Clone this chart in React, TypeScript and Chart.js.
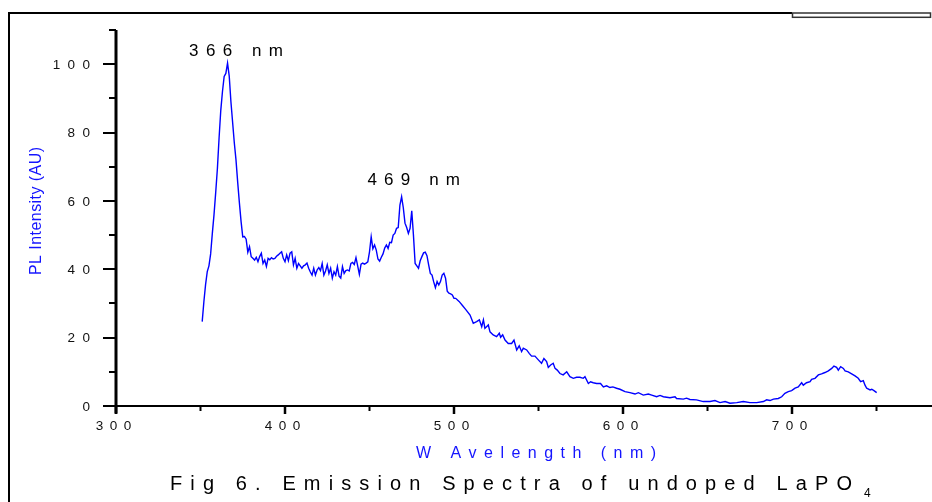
import { useEffect, useRef } from "react";
import { Chart, registerables } from "chart.js";

Chart.register(...registerables);

// ---------- data ----------
const WAVELENGTH_NM = [
  351, 352, 353, 354, 355, 356, 357, 358, 359, 360,
  361, 362, 363, 364, 365, 366, 367, 368, 369, 370,
  371, 372, 373, 374, 375, 376, 377, 378, 379, 380,
  381, 382, 383, 384, 385, 386, 387, 388, 389, 390,
  391, 392, 393, 394, 395, 396, 397, 398, 399, 400,
  401, 402, 403, 404, 405, 406, 407, 408, 409, 410,
  411, 412, 413, 414, 415, 416, 417, 418, 419, 420,
  421, 422, 423, 424, 425, 426, 427, 428, 429, 430,
  431, 432, 433, 434, 435, 436, 437, 438, 439, 440,
  441, 442, 443, 444, 445, 446, 447, 448, 449, 450,
  451, 452, 453, 454, 455, 456, 457, 458, 459, 460,
  461, 462, 463, 464, 465, 466, 467, 468, 469, 470,
  471, 472, 473, 474, 475, 476, 477, 478, 479, 480,
  481, 482, 483, 484, 485, 486, 487, 488, 489, 490,
  491, 492, 493, 494, 495, 496, 497, 498, 499, 500,
  501, 503, 505, 507, 509.5, 511.4, 513.4, 515, 516.4, 517.4,
  518.3, 520.3, 521.3, 523.2, 525.2, 526.8, 527.6, 528.8, 530.2, 532.1,
  534.1, 535.5, 537.1, 538.6, 540, 541, 543, 544.5, 545.9, 547.9,
  549.9, 551.8, 553.2, 554.8, 555.8, 557.2, 558.7, 559.8, 561.1, 562.7,
  564.6, 566.7, 568.6, 570.6, 572.5, 574.5, 576.5, 577.5, 579.5, 580.8,
  582.4, 584.4, 586.7, 588.4, 590.3, 592.3, 594, 596.2, 598.2, 601.2,
  604.1, 607.1, 609.1, 612, 615, 617, 619.9, 621.9, 623.9, 627.8,
  630.8, 631.7, 635.7, 637.6, 639.6, 643.5, 647.5, 651.5, 654.4, 657.4,
  660.4, 663.3, 667.3, 671.2, 675.1, 679.1, 683.1, 685, 687, 689,
  691.9, 693.9, 695.8, 697.8, 699.8, 701.8, 703.7, 705.7, 706.7, 708.6,
  710.7, 711.6, 713.6, 715.6, 717.5, 719.5, 721.5, 723.5, 724.8, 726.4,
  727.4, 728.8, 730.4, 731.4, 733.3, 735.3, 737.3, 739.2, 740.6, 742.2,
  743.2, 744.2, 746.2, 747.2, 748.5, 750.1,
];

const PL_INTENSITY = [
  24.7, 30.5, 35.5, 39.3, 41.0, 44.5, 50.5, 56.0, 62.5, 69.5,
  78.5, 86.5, 92.0, 96.4, 97.3, 100.3, 96.5, 89.0, 83.0, 77.0,
  72.0, 65.5, 59.5, 54.0, 49.5, 49.6, 48.8, 45.0, 46.6, 43.7,
  43.2, 42.7, 43.5, 42.2, 43.7, 44.7, 41.7, 42.7, 40.8, 43.2,
  42.8, 43.4, 43.0, 43.2, 43.8, 44.2, 44.7, 45.1, 43.2, 42.2,
  44.2, 42.5, 44.7, 45.1, 41.3, 43.2, 40.3, 41.7, 41.0, 40.3,
  41.0, 41.3, 41.8, 40.3, 39.2, 38.3, 40.3, 38.3, 39.8, 40.5,
  39.6, 41.7, 38.3, 39.5, 41.3, 38.8, 40.3, 37.4, 39.3, 38.3,
  40.8, 38.0, 37.4, 40.8, 38.8, 39.6, 39.8, 39.5, 41.7, 42.0,
  41.4, 43.4, 41.0, 38.5, 41.5, 41.8, 41.5, 41.8, 42.2, 45.1,
  49.5, 46.0, 47.1, 45.6, 43.0, 42.4, 43.5, 44.5, 46.2, 47.1,
  46.1, 47.9, 47.8, 50.0, 50.5, 52.0, 52.2, 58.8, 61.2, 58.0,
  53.5, 52.2, 50.5, 52.0, 57.1, 50.0, 41.7, 41.0, 40.3, 42.5,
  43.7, 44.8, 45.0, 44.0, 41.3, 38.8, 38.3, 36.3, 34.6, 36.4,
  35.4, 36.4, 38.3, 38.8, 37.4, 33.6, 33.0, 32.8, 32.5, 31.5,
  31.5, 30.6, 29.4, 28.2, 26.6, 24.2, 24.7, 25.2, 23.2, 25.2,
  22.7, 23.7, 21.7, 20.8, 20.3, 21.3, 20.1, 20.8, 19.3, 18.3,
  18.3, 19.3, 16.4, 17.6, 15.9, 16.9, 16.4, 15.4, 14.6, 14.6,
  13.5, 12.5, 13.9, 13.0, 11.3, 12.0, 12.5, 11.0, 10.5, 9.5,
  9.1, 10.0, 8.6, 8.1, 8.4, 8.4, 8.1, 8.6, 6.6, 7.1,
  6.8, 6.6, 6.6, 5.6, 5.9, 5.4, 5.6, 5.2, 4.9, 4.2,
  3.9, 3.5, 3.9, 3.2, 3.5, 3.2, 2.7, 3.1, 2.7, 2.4,
  2.7, 2.2, 2.0, 2.3, 1.9, 1.8, 1.3, 1.3, 1.6, 1.0,
  1.3, 0.8, 1.0, 1.3, 1.0, 1.0, 1.3, 1.8, 1.6, 2.0,
  2.2, 2.7, 3.7, 4.2, 4.5, 5.2, 5.6, 6.8, 6.1, 6.8,
  7.1, 7.8, 8.1, 9.1, 9.4, 9.8, 10.3, 11.0, 11.7, 11.3,
  10.5, 11.5, 11.0, 10.3, 10.0, 9.4, 8.8, 8.1, 7.1, 7.4,
  6.1, 5.2, 4.7, 4.9, 4.5, 3.9,
];

const X_MAJOR_TICKS = [300, 400, 500, 600, 700];
const X_MINOR_TICKS = [350, 450, 550, 650, 750];
const Y_MAJOR_TICKS = [0, 20, 40, 60, 80, 100];
const Y_MINOR_TICKS = [10, 30, 50, 70, 90, 110];

const PEAK_LABEL_1 = "366 nm";
const PEAK_LABEL_2 = "469 nm";
const X_TITLE = "W Avelength (nm)";
const Y_TITLE = "PL Intensity (AU)";
const CAPTION = "Fig 6. Emission Spectra of undoped LaPO";
const CAPTION_SUB = "4";

const X_MIN = 300;
const X_MAX = 782.84;
const Y_MIN = 0;
const Y_MAX = 110;

const FONT = '"Liberation Sans", Arial, Helvetica, sans-serif';
const BLUE = "#0000ff";
const TITLE_BLUE = "#1414ff";

function widths(ctx: CanvasRenderingContext2D, text: string): number[] {
  return Array.from(text).map((c) => ctx.measureText(c).width);
}

function drawSpaced(
  ctx: CanvasRenderingContext2D,
  text: string,
  x: number,
  baseline: number,
  spacing: number
) {
  let cx = x;
  for (const c of Array.from(text)) {
    ctx.fillText(c, cx, baseline);
    cx += ctx.measureText(c).width + spacing;
  }
}

function spacedWidth(ctx: CanvasRenderingContext2D, text: string, spacing: number) {
  const w = widths(ctx, text);
  return w.reduce((a, b) => a + b, 0) + spacing * (w.length - 1);
}

function drawFit(
  ctx: CanvasRenderingContext2D,
  text: string,
  left: number,
  right: number,
  baseline: number
) {
  const w = widths(ctx, text);
  const sum = w.reduce((a, b) => a + b, 0);
  const s = (right - left - sum) / Math.max(1, w.length - 1);
  drawSpaced(ctx, text, left, baseline, s);
}

const decorPlugin = {
  id: "decor",
  afterDraw(chart: any) {
    const ctx: CanvasRenderingContext2D = chart.ctx;
    const xs = chart.scales.x;
    const ys = chart.scales.y;
    const x0 = xs.getPixelForValue(X_MIN);
    const y0 = ys.getPixelForValue(Y_MIN);
    const yTop = ys.getPixelForValue(Y_MAX);
    ctx.save();

    // outer frame (cropped)
    ctx.strokeStyle = "#000";
    ctx.lineWidth = 2;
    ctx.beginPath();
    ctx.moveTo(9, 502);
    ctx.lineTo(9, 13);
    ctx.lineTo(792, 13);
    ctx.stroke();
    ctx.strokeStyle = "#333";
    ctx.lineWidth = 1.5;
    ctx.strokeRect(792.5, 13, 138, 4.3);

    // y axis
    ctx.strokeStyle = "#000";
    ctx.lineWidth = 3;
    ctx.beginPath();
    ctx.moveTo(x0, yTop);
    ctx.lineTo(x0, y0 + 7.5);
    ctx.stroke();
    // x axis
    ctx.lineWidth = 2;
    ctx.beginPath();
    ctx.moveTo(x0 - 13, y0);
    ctx.lineTo(chart.width, y0);
    ctx.stroke();

    // y ticks
    ctx.lineWidth = 2;
    for (const v of Y_MAJOR_TICKS) {
      const p = Math.round(ys.getPixelForValue(v));
      ctx.beginPath();
      ctx.moveTo(x0 - 13, p);
      ctx.lineTo(x0, p);
      ctx.stroke();
    }
    for (const v of Y_MINOR_TICKS) {
      const p = Math.round(ys.getPixelForValue(v));
      ctx.beginPath();
      ctx.moveTo(x0 - 7, p);
      ctx.lineTo(x0, p);
      ctx.stroke();
    }
    // x ticks
    ctx.lineWidth = 2.5;
    for (const v of X_MAJOR_TICKS) {
      const p = xs.getPixelForValue(v);
      ctx.beginPath();
      ctx.moveTo(p, y0);
      ctx.lineTo(p, y0 + 8);
      ctx.stroke();
    }
    ctx.lineWidth = 2;
    for (const v of X_MINOR_TICKS) {
      const p = xs.getPixelForValue(v);
      ctx.beginPath();
      ctx.moveTo(p, y0);
      ctx.lineTo(p, y0 + 5);
      ctx.stroke();
    }

    // tick labels
    ctx.fillStyle = "#111";
    ctx.textBaseline = "alphabetic";
    ctx.textAlign = "left";
    const tickSize = 13.5;
    ctx.font = `${tickSize}px ${FONT}`;
    const capHalf = (0.716 * tickSize) / 2;
    for (const v of Y_MAJOR_TICKS) {
      const t = String(v);
      const w = spacedWidth(ctx, t, 7.4);
      const p = ys.getPixelForValue(v);
      drawSpaced(ctx, t, 90 - w, p + capHalf, 7.4);
    }
    for (const v of X_MAJOR_TICKS) {
      const t = String(v);
      const w = spacedWidth(ctx, t, 6.5);
      const p = xs.getPixelForValue(v);
      drawSpaced(ctx, t, p - 2.5 - w / 2, 425.3 + capHalf, 6.5);
    }

    // peak labels
    ctx.fillStyle = "#000";
    ctx.font = `17px ${FONT}`;
    drawFit(ctx, PEAK_LABEL_1, 189, 283, 56);
    drawFit(ctx, PEAK_LABEL_2, 367.5, 460, 185.3);

    // axis titles
    ctx.fillStyle = TITLE_BLUE;
    ctx.font = `16px ${FONT}`;
    drawFit(ctx, X_TITLE, 416, 656, 458.3);
    ctx.save();
    ctx.translate(40.7, 275);
    ctx.rotate(-Math.PI / 2);
    drawFit(ctx, Y_TITLE, 0, 128, 0);
    ctx.restore();

    // caption
    ctx.fillStyle = "#000";
    ctx.font = `20px ${FONT}`;
    drawFit(ctx, CAPTION, 170, 852, 490);
    ctx.font = `12px ${FONT}`;
    ctx.fillText(CAPTION_SUB, 864, 496.7);

    ctx.restore();
  },
};

export default function App() {
  const canvasRef = useRef<HTMLCanvasElement | null>(null);

  useEffect(() => {
    const canvas = canvasRef.current;
    if (!canvas) return;
    const points = WAVELENGTH_NM.map((x, i) => ({ x, y: PL_INTENSITY[i] }));
    const chart = new Chart(canvas, {
      type: "line",
      data: {
        datasets: [
          {
            data: points,
            borderColor: BLUE,
            borderWidth: 1.4,
            pointRadius: 0,
            tension: 0,
            fill: false,
          },
        ],
      },
      options: {
        animation: false,
        responsive: false,
        devicePixelRatio: 1,
        events: [],
        layout: { padding: { left: 116, top: 30, right: 0, bottom: 96 } },
        plugins: { legend: { display: false }, tooltip: { enabled: false } },
        scales: {
          x: { type: "linear", min: X_MIN, max: X_MAX, display: false },
          y: { type: "linear", min: Y_MIN, max: Y_MAX, display: false },
        },
      },
      plugins: [decorPlugin],
    });
    return () => chart.destroy();
  }, []);

  return (
    <div
      style={{
        position: "absolute",
        left: 0,
        top: 0,
        width: 932,
        height: 502,
        background: "#fff",
      }}
    >
      <canvas ref={canvasRef} width={932} height={502} style={{ display: "block" }} />
    </div>
  );
}
